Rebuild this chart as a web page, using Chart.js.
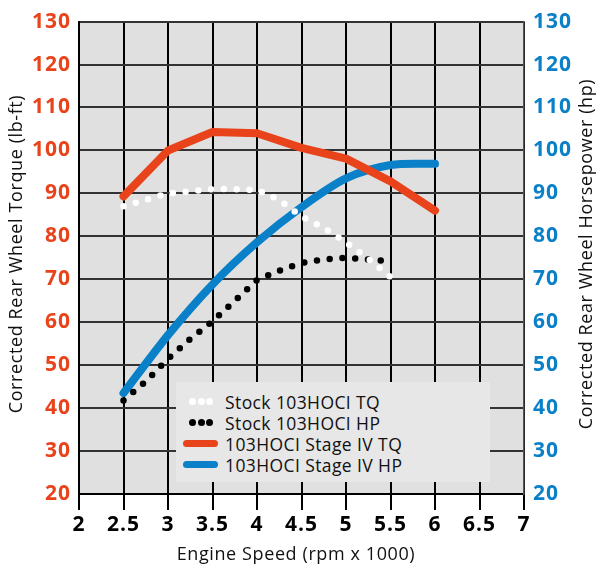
<!DOCTYPE html>
<html>
<head>
<meta charset="utf-8">
<script src="https://cdn.jsdelivr.net/npm/chart.js@4.4.1/dist/chart.umd.min.js"></script>
<style>
  body { margin: 0; background: #fff; }
  #wrap { position: relative; width: 598px; height: 568px; }
  #legend {
    position: absolute; left: 176px; top: 382px; width: 314px; height: 100px;
    background: #e7e7e7; font-family: "Open Sans", sans-serif; font-size: 17.5px; letter-spacing: 0.4px; color: #111;
    padding-top: 9px; box-sizing: border-box;
  }
  .row { display: flex; align-items: center; height: 21px; }
  .sym { width: 36px; margin-left: 7px; margin-right: 6px; display: flex; justify-content: space-between; align-items: center; }
  .dot { width: 7px; height: 7px; border-radius: 50%; }
  .bar { width: 35px; height: 7px; border-radius: 4px; }
</style>
</head>
<body>
<div id="wrap">
  <canvas id="chart" width="598" height="568"></canvas>
  <div id="legend"></div>
</div>
<script>
const orange = "#e8431a";
const blue = "#0a80c8";

// engine speed (rpm x 1000)
const rpmStockTq = [2.5, 2.75, 3, 3.25, 3.5, 3.75, 4, 4.25, 4.5, 4.75, 5, 5.25, 5.5];
const rpmStockHp = [2.5, 2.75, 3, 3.25, 3.5, 3.75, 4, 4.25, 4.5, 4.75, 5, 5.25, 5.45];
const rpmStage = [2.5, 3, 3.5, 4, 4.5, 5, 5.5, 6];

const stockTq = [87, 88.5, 90, 90.5, 91, 91, 90.8, 88.5, 84.6, 82, 78.6, 74.8, 70.5];
const stockHp = [41.8, 46.2, 51.5, 56.1, 60.2, 65, 69.8, 72, 73.8, 74.6, 75, 74.6, 74.3];
const stageTq = [89.3, 100, 104.3, 104, 100.6, 98.1, 92.8, 86];
const stageHp = [43.5, 57, 68.8, 78.6, 86.8, 93.5, 96.6, 96.9];

const xTicks = [2, 2.5, 3, 3.5, 4, 4.5, 5, 5.5, 6, 6.5, 7];
const seriesNames = ["Stock 103HOCI TQ", "Stock 103HOCI HP", "103HOCI Stage IV TQ", "103HOCI Stage IV HP"];

function pts(xs, ys) {
  return xs.map((x, i) => ({ x: x, y: ys[i] }));
}

const plotBg = {
  id: "plotBg",
  beforeDraw(chart) {
    const a = chart.chartArea;
    const ctx = chart.ctx;
    ctx.letterSpacing = "1px";
    ctx.save();
    ctx.fillStyle = "#e0e0e0";
    ctx.fillRect(a.left, a.top, a.right - a.left, a.bottom - a.top);
    ctx.restore();
  }
};

const axisTitles = {
  id: "axisTitles",
  afterDraw(chart) {
    const ctx = chart.ctx;
    ctx.save();
    ctx.letterSpacing = "0.6px";
    ctx.fillStyle = "#111";
    ctx.font = "18px 'Open Sans'";
    ctx.textAlign = "center";
    ctx.textBaseline = "middle";
    ctx.fillText("Engine Speed (rpm x 1000)", 296, 555);

    ctx.translate(17, 254);
    ctx.rotate(-Math.PI / 2);
    ctx.fillText("Corrected Rear Wheel Torque (lb-ft)", 0, 0);
    ctx.restore();

    ctx.save();
    ctx.letterSpacing = "0.6px";
    ctx.fillStyle = "#111";
    ctx.font = "18px 'Open Sans'";
    ctx.textAlign = "center";
    ctx.textBaseline = "middle";
    ctx.translate(587, 254);
    ctx.rotate(-Math.PI / 2);
    ctx.fillText("Corrected Rear Wheel Horsepower (hp)", 0, 0);
    ctx.restore();
  }
};

const dotted = { borderDash: [0, 12.8], borderCapStyle: "round", borderWidth: 6.5 };
const tickFont = { family: "Open Sans", size: 21, weight: "bold" };

new Chart(document.getElementById("chart"), {
  type: "line",
  data: {
    datasets: [
      Object.assign({ label: seriesNames[0], data: pts(rpmStockTq, stockTq), borderColor: "#ffffff" }, dotted),
      Object.assign({ label: seriesNames[1], data: pts(rpmStockHp, stockHp), borderColor: "#000000", yAxisID: "y1" }, dotted),
      { label: seriesNames[2], data: pts(rpmStage, stageTq), borderColor: orange, borderWidth: 8, borderCapStyle: "round", borderJoinStyle: "round" },
      { label: seriesNames[3], data: pts(rpmStage, stageHp), borderColor: blue, borderWidth: 8, borderCapStyle: "round", borderJoinStyle: "round", tension: 0.3, yAxisID: "y1" }
    ]
  },
  options: {
    responsive: false,
    animation: false,
    devicePixelRatio: 1,
    layout: { padding: { top: 15, left: 0, right: 0, bottom: 0 } },
    elements: { point: { radius: 0 } },
    plugins: { legend: { display: false }, tooltip: { enabled: false } },
    scales: {
      x: {
        type: "linear",
        min: 2, max: 7,
        afterBuildTicks: s => { s.ticks = xTicks.map(v => ({ value: v })); },
        afterFit: s => { s.height = 74; },
        grid: { color: "#000", lineWidth: 2, tickLength: 16, tickColor: "#000", tickWidth: 2 },
        border: { color: "#000", width: 2 },
        ticks: { color: "#000", padding: 2, font: tickFont, callback: v => String(v) }
      },
      y: {
        position: "left",
        min: 20, max: 130,
        ticks: { stepSize: 10, color: orange, padding: 8, font: tickFont },
        afterFit: s => { s.width = 79; },
        grid: { color: "#333", lineWidth: 2, drawTicks: false },
        border: { color: "#000", width: 2 }
      },
      y1: {
        position: "right",
        min: 20, max: 130,
        ticks: { stepSize: 10, color: blue, padding: 9, font: tickFont },
        afterFit: s => { s.width = 74; },
        grid: { display: false, drawTicks: false },
        border: { color: "#555", width: 1.5 }
      }
    }
  },
  plugins: [plotBg, axisTitles]
});

// legend inside the plot
const legendStyles = [
  { dots: "#ffffff" },
  { dots: "#000000" },
  { bar: orange },
  { bar: blue }
];
const legend = document.getElementById("legend");
seriesNames.forEach((name, i) => {
  const row = document.createElement("div");
  row.className = "row";
  const sym = document.createElement("div");
  sym.className = "sym";
  const st = legendStyles[i];
  if (st.dots) {
    for (let k = 0; k < 3; k++) {
      const d = document.createElement("div");
      d.className = "dot";
      d.style.background = st.dots;
      sym.appendChild(d);
    }
    sym.style.padding = "0 6px";
    sym.style.boxSizing = "border-box";
  } else {
    const b = document.createElement("div");
    b.className = "bar";
    b.style.background = st.bar;
    sym.appendChild(b);
  }
  const label = document.createElement("span");
  label.textContent = name;
  row.appendChild(sym);
  row.appendChild(label);
  legend.appendChild(row);
});
</script>
</body>
</html>
